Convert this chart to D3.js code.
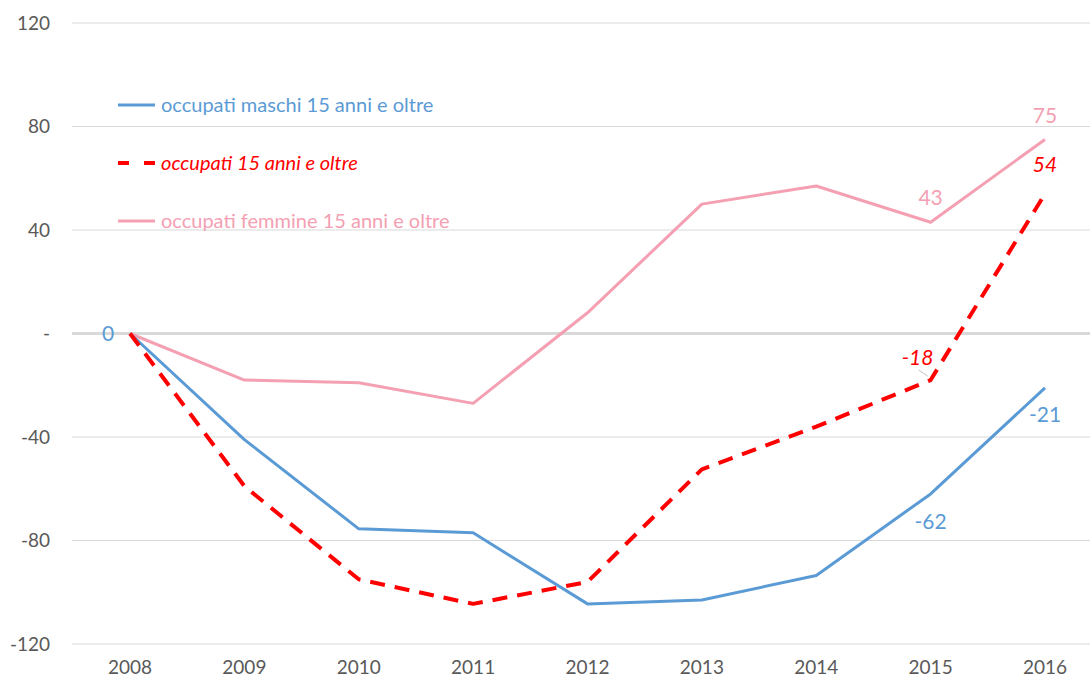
<!DOCTYPE html>
<html>
<head>
<meta charset="utf-8">
<script src="https://cdn.jsdelivr.net/npm/d3@7"></script>
<style>
  body { margin: 0; background: #fff; }
  svg { display: block; font-family: Lato, "Noto Sans", sans-serif; }
</style>
</head>
<body>
<svg id="chart" width="1090" height="682"></svg>
<script>
// Data
const years = ["2008", "2009", "2010", "2011", "2012", "2013", "2014", "2015", "2016"];
const maschi = [0, -41, -75.5, -77, -104.5, -103, -93.5, -62, -21];
const totale = [0, -59, -95, -104.5, -96, -52.5, -36, -18, 54];
const femmine = [0, -18, -19, -27, 8, 50, 57, 43, 75];
const yTicks = [120, 80, 40, 0, -40, -80, -120];

const svg = d3.select("#chart");

// Scales
const x = d3.scalePoint()
    .domain(years)
    .range([130, 1045]);

const y = d3.scaleLinear()
    .domain([-120, 120])
    .range([644, 23]);

// Gridlines
svg.append("g")
    .selectAll("line")
    .data(yTicks)
    .enter()
    .append("line")
    .attr("x1", 72)
    .attr("x2", 1090)
    .attr("y1", d => y(d))
    .attr("y2", d => y(d))
    .attr("stroke", "#d9d9d9")
    .attr("stroke-width", d => d === 0 ? 3 : 1);

// Y axis labels
svg.append("g")
    .selectAll("text")
    .data(yTicks)
    .enter()
    .append("text")
    .attr("x", 50)
    .attr("y", d => y(d))
    .attr("dy", "0.35em")
    .attr("text-anchor", "end")
    .attr("font-size", 19)
    .attr("fill", "#595959")
    .text(d => d === 0 ? "-" : d);

// X axis labels
svg.append("g")
    .selectAll("text")
    .data(years)
    .enter()
    .append("text")
    .attr("x", d => x(d))
    .attr("y", 674)
    .attr("text-anchor", "middle")
    .attr("font-size", 19)
    .attr("fill", "#595959")
    .text(d => d);

const series = [
  {name: "occupati femmine 15 anni e oltre", values: femmine, color: "#f4a0b2", width: 3, dash: null, italic: false},
  {name: "occupati maschi 15 anni e oltre", values: maschi, color: "#5b9bd5", width: 3, dash: null, italic: false},
  {name: "occupati 15 anni e oltre", values: totale, color: "#ff0000", width: 4, dash: "15,10", italic: true}
];

const line = d3.line()
    .x((d, i) => x(years[i]))
    .y(d => y(d));

series.forEach(s => {
  svg.append("path")
      .datum(s.values)
      .attr("fill", "none")
      .attr("stroke", s.color)
      .attr("stroke-width", s.width)
      .attr("stroke-linejoin", "round")
      .attr("stroke-dasharray", s.dash)
      .attr("d", line);
});

// Legend
const legendItems = [series[1], series[2], series[0]];
legendItems.forEach((s, i) => {
  const ly = 105 + i * 58;
  svg.append("line")
      .attr("x1", 118).attr("x2", 155)
      .attr("y1", ly).attr("y2", ly)
      .attr("stroke", s.color)
      .attr("stroke-width", s.dash ? 4 : 3)
      .attr("stroke-dasharray", s.dash ? "11,15" : null);
  svg.append("text")
      .attr("x", 161)
      .attr("y", ly)
      .attr("dy", "0.35em")
      .attr("font-size", 20)
      .attr("font-style", s.italic ? "italic" : "normal")
      .attr("fill", s.color)
      .text(s.name);
});

// Data labels
const labels = [
  {i: 0, v: maschi[0], dx: -22, dy: 0, color: "#5b9bd5", italic: false},
  {i: 8, v: femmine[8], dx: 0, dy: -24, color: "#f4a0b2", italic: false},
  {i: 8, v: totale[8], dx: 0, dy: -29, color: "#ff0000", italic: true},
  {i: 7, v: femmine[7], dx: 0, dy: -25, color: "#f4a0b2", italic: false},
  {i: 7, v: totale[7], dx: -13, dy: -22, color: "#ff0000", italic: true},
  {i: 8, v: maschi[8], dx: 0, dy: 27, color: "#5b9bd5", italic: false},
  {i: 7, v: maschi[7], dx: 0, dy: 28, color: "#5b9bd5", italic: false}
];

// small leader line for -18
svg.append("line")
    .attr("x1", x(years[7]) - 12).attr("y1", y(totale[7]) - 10)
    .attr("x2", x(years[7]) - 3).attr("y2", y(totale[7]) - 4)
    .attr("stroke", "#bfbfbf")
    .attr("stroke-width", 1);

svg.append("g")
    .selectAll("text")
    .data(labels)
    .enter()
    .append("text")
    .attr("x", d => x(years[d.i]) + d.dx)
    .attr("y", d => y(d.v) + d.dy)
    .attr("dy", "0.35em")
    .attr("text-anchor", "middle")
    .attr("font-size", 21)
    .attr("font-style", d => d.italic ? "italic" : "normal")
    .attr("fill", d => d.color)
    .text(d => Math.round(d.v));
</script>
</body>
</html>
